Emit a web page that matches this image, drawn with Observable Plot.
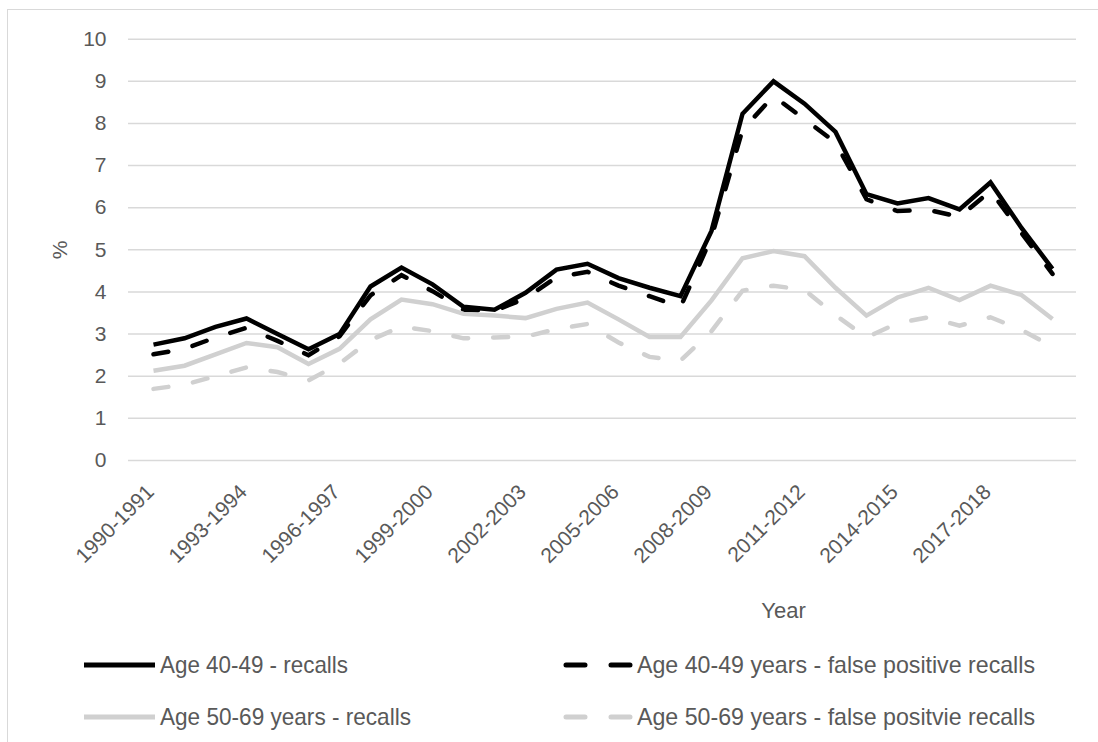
<!DOCTYPE html>
<html>
<head>
<meta charset="utf-8">
<script src="https://cdn.jsdelivr.net/npm/d3@7"></script>
<script src="https://cdn.jsdelivr.net/npm/@observablehq/plot@0.6"></script>
<style>
  html, body { margin: 0; padding: 0; background: #fff; }
  #wrap { position: relative; width: 1098px; height: 742px; overflow: hidden; }
  #frame { position: absolute; left: 7px; top: 9px; width: 1200px; height: 800px;
           border-left: 1.5px solid #d9d9d9; border-top: 1.5px solid #d9d9d9; }
  #chart { position: absolute; left: 0; top: 0; }
  #legend { position: absolute; left: 0; top: 640px; }
</style>
</head>
<body>
<div id="wrap"><div id="frame"></div><div id="chart"></div><div id="legend"></div></div>
<script>
const periods = ["1990-1991","1991-1992","1992-1993","1993-1994","1994-1995","1995-1996","1996-1997","1997-1998","1998-1999","1999-2000",
  "2000-2001","2001-2002","2002-2003","2003-2004","2004-2005","2005-2006","2006-2007","2007-2008","2008-2009","2009-2010",
  "2010-2011","2011-2012","2012-2013","2013-2014","2014-2015","2015-2016","2016-2017","2017-2018","2018-2019","2019-2020"];
const xTickLabels = ["1990-1991","1993-1994","1996-1997","1999-2000","2002-2003","2005-2006","2008-2009","2011-2012","2014-2015","2017-2018"];
const yTicks = [0,1,2,3,4,5,6,7,8,9,10];

const recalls4049 = [2.75,2.9,3.17,3.37,3.0,2.64,3.0,4.13,4.58,4.18,3.65,3.58,3.98,4.53,4.67,4.33,4.1,3.9,5.45,8.23,9.0,8.47,7.8,6.32,6.1,6.23,5.96,6.6,5.52,4.55];
const fp4049      = [2.52,2.65,2.92,3.15,2.84,2.5,2.95,3.92,4.4,4.02,3.58,3.55,3.85,4.35,4.48,4.15,3.9,3.64,5.3,7.85,8.65,8.1,7.55,6.2,5.92,5.95,5.78,6.4,5.4,4.43];
const recalls5069 = [2.13,2.25,2.52,2.79,2.69,2.29,2.65,3.35,3.82,3.71,3.48,3.44,3.38,3.6,3.75,3.35,2.93,2.93,3.8,4.8,4.97,4.85,4.1,3.44,3.87,4.1,3.81,4.15,3.93,3.36];
const fp5069      = [1.7,1.8,2.0,2.21,2.1,1.9,2.3,2.86,3.18,3.07,2.9,2.92,2.94,3.12,3.24,2.8,2.46,2.37,3.07,4.03,4.15,4.05,3.45,2.92,3.26,3.4,3.2,3.4,3.1,2.7];

const seriesNames = ["Age 40-49 - recalls","Age 40-49 years - false positive recalls","Age 50-69 years - recalls","Age 50-69 years - false positvie recalls"];
const seriesValues = [recalls4049, fp4049, recalls5069, fp5069];
const seriesColors = ["#000000","#000000","#d0d0d0","#d0d0d0"];
const seriesDash = [null,"15,25",null,"15,25"];

const textColor = "#595959";
const font = "'Liberation Sans', Arial, sans-serif";

const lineMarks = seriesValues.map((vals, k) =>
  Plot.line(vals, {
    x: (d, i) => periods[i], y: d => d,
    stroke: seriesColors[k], strokeWidth: 4.5,
    strokeDasharray: seriesDash[k] || undefined,
    strokeLinecap: seriesDash[k] ? "round" : "butt",
    strokeLinejoin: "miter", strokeMiterlimit: 4
  })
);

const chart = Plot.plot({
  width: 1098, height: 640,
  marginLeft: 128, marginRight: 22, marginTop: 38.7, marginBottom: 180,
  style: { fontFamily: font, fontSize: "21px", color: textColor, background: "transparent", overflow: "visible" },
  x: { type: "point", domain: periods, padding: 0.5, axis: null },
  y: { domain: [0, 10], axis: null },
  marks: [
    Plot.gridY(yTicks, { stroke: "#d9d9d9", strokeOpacity: 1, strokeWidth: 1.5 }),
    Plot.axisY(yTicks, { tickSize: 0, tickPadding: 22, label: null, fill: textColor, fontSize: 21 }),
    Plot.text(xTickLabels, { x: d => d, frameAnchor: "bottom", dx: -3, dy: 28, rotate: -45, textAnchor: "end", lineAnchor: "middle", fill: textColor, fontSize: 21 }),
    Plot.text(["%"], { frameAnchor: "left", dx: -68, rotate: -90, textAnchor: "middle", fill: textColor, fontSize: 21 }),
    Plot.text(["Year"], { frameAnchor: "bottom", dx: 181, dy: 157, textAnchor: "middle", fill: textColor, fontSize: 22 }),
    ...lineMarks
  ]
});
document.getElementById("chart").appendChild(chart);

// Legend
const lg = d3.select("#legend").append("svg").attr("width", 1098).attr("height", 102);
const legendPos = [
  { lx1: 84, lx2: 155, tx: 160, y: 25, tw: 188 },
  { lx1: 566, lx2: 632, tx: 637, y: 25, tw: 398 },
  { lx1: 84, lx2: 155, tx: 160, y: 77, tw: 251 },
  { lx1: 566, lx2: 632, tx: 637, y: 77, tw: 398 }
];
seriesNames.forEach((name, k) => {
  const p = legendPos[k];
  lg.append("line").attr("x1", p.lx1).attr("x2", p.lx2).attr("y1", p.y).attr("y2", p.y)
    .attr("stroke", seriesColors[k]).attr("stroke-width", 5)
    .attr("stroke-dasharray", seriesDash[k] ? "19,26" : null)
    .attr("stroke-linecap", seriesDash[k] ? "round" : "butt");
  lg.append("text").attr("x", p.tx).attr("y", p.y).attr("dy", "0.35em")
    .attr("fill", textColor)
    .style("font-family", "'Liberation Sans Narrow', 'Arial Narrow', 'Liberation Sans', Arial, sans-serif")
    .style("font-size", "24px")
    .attr("textLength", p.tw).attr("lengthAdjust", "spacingAndGlyphs")
    .text(name);
});
</script>
</body>
</html>
